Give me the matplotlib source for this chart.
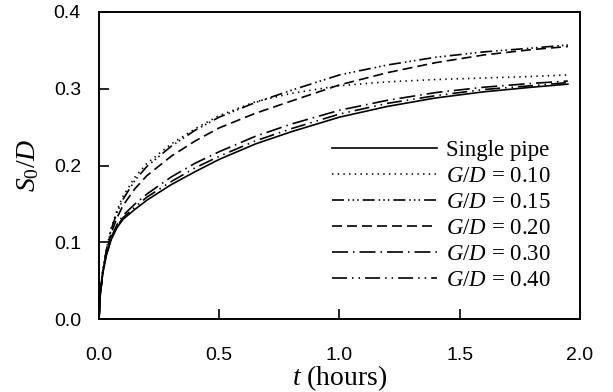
import numpy as np
import matplotlib
matplotlib.use('Agg')
import matplotlib.pyplot as plt

plt.rcParams['font.family'] = 'Liberation Sans'
plt.rcParams['mathtext.fontset'] = 'custom'
plt.rcParams['mathtext.rm'] = 'Liberation Serif'
plt.rcParams['mathtext.it'] = 'Liberation Serif:italic'
plt.rcParams['lines.scale_dashes'] = False

# time (hours)
t = [0, 0.005, 0.015, 0.03, 0.05, 0.075, 0.1, 0.15, 0.2, 0.3, 0.4, 0.5,
     0.65, 0.8, 1.0, 1.2, 1.4, 1.6, 1.8, 1.95]

single = [0, .030, .058, .082, .103, .119, .130, .143, .155, .175, .192, .208,
          .228, .244, .263, .277, .288, .296, .302, .306]
gd010 = [0, .032, .062, .090, .118, .142, .160, .185, .203, .228, .248, .265,
         .283, .294, .304, .309, .312, .314, .316, .318]
gd015 = [0, .032, .062, .089, .116, .139, .156, .181, .199, .225, .246, .263,
         .282, .298, .318, .331, .341, .348, .353, .357]
gd020 = [0, .031, .060, .086, .111, .132, .148, .170, .187, .212, .232, .249,
         .268, .284, .305, .321, .334, .344, .351, .355]
gd030 = [0, .030, .060, .085, .106, .123, .135, .150, .163, .185, .203, .218,
         .238, .254, .272, .285, .295, .302, .307, .310]
gd040 = [0, .030, .059, .083, .104, .121, .132, .146, .159, .179, .197, .212,
         .232, .248, .267, .281, .291, .299, .304, .308]

labels = ['Single pipe', r'$G/D$ = 0.10', r'$G/D$ = 0.15', r'$G/D$ = 0.20',
          r'$G/D$ = 0.30', r'$G/D$ = 0.40']
series = [single, gd010, gd015, gd020, gd030, gd040]
dashes = [None,
          (1.0, 3.1),
          (8.6, 2.9, 1.1, 2.2, 1.1, 2.2, 1.1, 2.9),
          (7.2, 3.6),
          (11.5, 3.6, 1.1, 3.6),
          (10.8, 3.6, 1.1, 3.6, 1.1, 3.6)]

fig = plt.figure(figsize=(6.13, 3.92), dpi=100)
ax = fig.add_axes([0.1615, 0.1862, 0.7845, 0.7832])

for y, lab, d in zip(series, labels, dashes):
    line, = ax.plot(t, y, color='black', lw=1.2, label=lab)
    if d is not None:
        line.set_dashes(d)

ax.set_xlim(0, 2.0)
ax.set_ylim(0, 0.4)
ax.set_xticks(np.arange(0, 2.01, 0.5))
ax.set_yticks(np.arange(0, 0.41, 0.1))
ax.xaxis.set_major_formatter(matplotlib.ticker.FormatStrFormatter('%.1f'))
ax.yaxis.set_major_formatter(matplotlib.ticker.FormatStrFormatter('%.1f'))
ax.tick_params(direction='in', length=7, width=1.2, labelsize=14)
ax.tick_params(axis='x', pad=20.5)
ax.tick_params(axis='y', pad=13)
for s in ax.spines.values():
    s.set_linewidth(1.4)

ax.set_xlabel(r'$t$ (hours)', fontfamily='Liberation Serif', fontsize=20, labelpad=-1)
ax.set_ylabel(r'$S_0/D$', fontfamily='Liberation Serif', fontsize=20, labelpad=9)

ax.legend(loc='upper left', bbox_to_anchor=(332 / 613, 1 - 140 / 392),
          bbox_transform=fig.transFigure, frameon=False,
          prop={'family': 'Liberation Serif', 'size': 16.5},
          handlelength=4.58, handletextpad=0.4, labelspacing=0.215,
          borderpad=0, borderaxespad=0)

fig.savefig('out.png', dpi=100)
